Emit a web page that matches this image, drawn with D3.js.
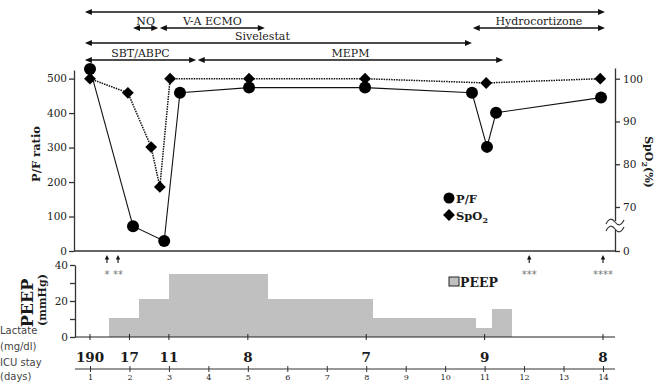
<!DOCTYPE html>
<html lang="en">
<head>
<meta charset="UTF-8">
<title>P/F ratio, SpO2 and PEEP</title>
<style>
  body, html { margin: 0; background: #fff; }
  svg text { font-family: "DejaVu Serif", serif; fill: #1a1a1a; }
  .tick text { fill: #222; }
  .side { font-family: "DejaVu Sans", sans-serif; fill: #444; font-size: 10px; }
</style>
<script src="https://d3js.org/d3.v7.min.js"></script>
</head>
<body>
<div id="chart"></div>
<script>
// treatments (double arrows above the plot)
const treatName  = ["", "NO", "V-A ECMO", "Hydrocortizone", "Sivelestat", "SBT/ABPC", "MEPM"];
const treatStart = [0.87, 2.09, 2.77, 10.70, 0.87, 0.87, 3.73];
const treatEnd   = [14.05, 2.73, 5.43, 14.05, 10.68, 3.69, 11.47];
const treatRow   = [0, 1, 1, 1, 2, 3, 3];

// P/F ratio (circles)
const pfDay   = [1, 2.09, 2.88, 3.28, 5.03, 7.97, 10.68, 11.06, 11.29, 13.95];
const pfValue = [528, 72, 29, 459, 474, 474, 459, 302, 401, 445];

// SpO2 (diamonds)
const spo2Day   = [1, 1.96, 2.55, 2.77, 3.03, 5.03, 7.97, 11.04, 13.93];
const spo2Value = [100, 96.7, 84, 74.7, 100, 100, 100, 99, 100];

// events under the axis
const eventDay  = [1.43, 1.71, 12.13, 14];
const eventMark = ["*", "**", "***", "****"];

// PEEP steps
const peepFrom  = [1.48, 2.24, 3.0, 5.49, 8.17, 10.76, 11.19];
const peepTo    = [2.24, 3.0, 5.49, 8.17, 10.76, 11.19, 11.69];
const peepValue = [10.5, 21, 35, 21, 10.5, 5, 15.5];

// lactate
const lactateDay   = [1, 2, 3, 5, 8, 11, 14];
const lactateValue = ["190", "17", "11", "8", "7", "9", "8"];

// ticks
const dayTicks  = [1, 2, 3, 4, 5, 6, 7, 8, 9, 10, 11, 12, 13, 14];
const pfTicks   = [0, 100, 200, 300, 400, 500];
const spo2Ticks = [0, 70, 80, 90, 100];
const peepTicks = [0, 10, 20, 30, 40];

const width = 664, height = 385;
const svg = d3.select("#chart").append("svg")
    .attr("width", width)
    .attr("height", height);

const x = d3.scaleLinear().domain([1, 14]).range([90, 603]);
const yPF = d3.scaleLinear().domain([0, 525]).range([251, 70]);
const ySp = d3.scaleLinear().domain([0, 70, 102.5]).range([251, 207, 68]);
const yPeep = d3.scaleLinear().domain([0, 40]).range([337, 265]);
const rowY = [12, 28, 43, 60];
const ink = "#111";

// ---- treatment arrows
const arrow = (g, x0, x1, y) => {
    g.append("line").attr("x1", x0 + 4).attr("x2", x1 - 4).attr("y1", y).attr("y2", y)
        .attr("stroke", ink).attr("stroke-width", 1.6);
    g.append("path").attr("d", `M${x0},${y}L${x0 + 7},${y - 3}L${x0 + 7},${y + 3}Z`).attr("fill", ink);
    g.append("path").attr("d", `M${x1},${y}L${x1 - 7},${y - 3}L${x1 - 7},${y + 3}Z`).attr("fill", ink);
};
const treat = svg.append("g");
treatName.forEach((name, i) => {
    const x0 = x(treatStart[i]), x1 = x(treatEnd[i]), y = rowY[treatRow[i]];
    arrow(treat, x0, x1, y);
    if (name) {
        treat.append("text")
            .attr("x", (x0 + x1) / 2 - (name === "Sivelestat" ? 16 : 0))
            .attr("y", y - 3)
            .attr("text-anchor", "middle")
            .style("font-size", "11px")
            .text(name);
    }
});

// ---- main axes
svg.append("line").attr("x1", 74).attr("x2", 615).attr("y1", 251).attr("y2", 251)
    .attr("stroke", "#333").attr("stroke-width", 1.3);

const leftAxis = svg.append("g").attr("transform", "translate(74,0)")
    .call(d3.axisLeft(yPF).tickValues(pfTicks).tickSize(5).tickSizeOuter(0).tickPadding(2));
const rightAxis = svg.append("g").attr("transform", "translate(615,0)")
    .call(d3.axisRight(ySp).tickValues(spo2Ticks).tickSize(5).tickSizeOuter(0).tickPadding(3));
[leftAxis, rightAxis].forEach(a => {
    a.selectAll("path, line").attr("stroke", "#333").attr("stroke-width", 1.3);
    a.selectAll("text").style("font-size", "10.5px").style("font-family", "DejaVu Serif");
});

// axis break on the SpO2 axis
svg.append("rect").attr("x", 612).attr("y", 221).attr("width", 6).attr("height", 9).attr("fill", "#fff");
[222, 229].forEach(y => {
    svg.append("path")
        .attr("d", `M606,${y + 2}C609,${y - 4} 612,${y - 4} 615,${y}S621,${y + 4} 624,${y - 2}`)
        .attr("fill", "none").attr("stroke", "#333").attr("stroke-width", 1.2);
});

// axis titles
svg.append("text").attr("transform", "translate(40,154) rotate(-90)")
    .attr("text-anchor", "middle").style("font-size", "11.5px").style("font-weight", "bold")
    .text("P/F ratio");
const spTitle = svg.append("text").attr("transform", "translate(645,162) rotate(90)")
    .attr("text-anchor", "middle").style("font-size", "11px").style("font-weight", "bold");
spTitle.append("tspan").text("SpO");
spTitle.append("tspan").attr("dy", 3).style("font-size", "8px").text("2");
spTitle.append("tspan").attr("dy", -3).text("(%)");

// ---- lines and markers
const lineSp = d3.line().x((d, i) => x(spo2Day[i])).y(d => ySp(d));
svg.append("path").datum(spo2Value).attr("d", lineSp)
    .attr("fill", "none").attr("stroke", ink).attr("stroke-width", 1.5).attr("stroke-dasharray", "1.5,1");

const linePF = d3.line().x((d, i) => x(pfDay[i])).y(d => yPF(d));
svg.append("path").datum(pfValue).attr("d", linePF)
    .attr("fill", "none").attr("stroke", ink).attr("stroke-width", 1.1);

const diamond = d3.symbol().type(d3.symbolSquare).size(70);
svg.append("g").selectAll("path")
    .data(spo2Value).enter().append("path")
    .attr("d", diamond)
    .attr("transform", (d, i) => `translate(${x(spo2Day[i])},${ySp(d)}) rotate(45)`)
    .attr("fill", "#000");

svg.append("g").selectAll("circle")
    .data(pfValue).enter().append("circle")
    .attr("cx", (d, i) => x(pfDay[i]))
    .attr("cy", d => yPF(d))
    .attr("r", 6)
    .attr("fill", "#000");

// legend
svg.append("circle").attr("cx", 449).attr("cy", 198).attr("r", 5.5).attr("fill", "#000");
svg.append("text").attr("x", 456).attr("y", 202.5).style("font-size", "11.5px").style("font-weight", "bold").text("P/F");
svg.append("path").attr("d", diamond).attr("transform", "translate(449,215) rotate(45)").attr("fill", "#000");
const legSp = svg.append("text").attr("x", 456).attr("y", 219.5).style("font-size", "11.5px").style("font-weight", "bold");
legSp.append("tspan").text("SpO");
legSp.append("tspan").attr("dy", 3).style("font-size", "8px").text("2");

// event arrows
eventDay.forEach((d, i) => {
    const ex = x(d);
    svg.append("line").attr("x1", ex).attr("x2", ex).attr("y1", 263).attr("y2", 258)
        .attr("stroke", ink).attr("stroke-width", 1.1);
    svg.append("path").attr("d", `M${ex},255L${ex - 2.2},259.5L${ex + 2.2},259.5Z`).attr("fill", ink);
    svg.append("text").attr("x", ex).attr("y", 278).attr("text-anchor", "middle")
        .style("font-family", "DejaVu Sans").style("font-size", "10px").style("fill", "#777")
        .text(eventMark[i]);
});

// ---- PEEP panel
svg.append("g").attr("shape-rendering", "crispEdges").selectAll("rect")
    .data(peepValue).enter().append("rect")
    .attr("x", (d, i) => x(peepFrom[i]))
    .attr("width", (d, i) => x(peepTo[i]) - x(peepFrom[i]) + 0.5)
    .attr("y", d => yPeep(d))
    .attr("height", d => yPeep(0) - yPeep(d))
    .attr("fill", "#c0c0c0");

const peepAxis = svg.append("g").attr("transform", "translate(75,0)")
    .call(d3.axisLeft(yPeep).tickValues(peepTicks).tickSize(5).tickSizeOuter(0).tickPadding(2)
        .tickFormat(d => d % 20 === 0 ? d : ""));
peepAxis.selectAll("path, line").attr("stroke", "#333").attr("stroke-width", 1.3);
peepAxis.selectAll("text").style("font-size", "10.5px").style("font-family", "DejaVu Serif");

svg.append("line").attr("x1", 75).attr("x2", 615).attr("y1", 337).attr("y2", 337)
    .attr("stroke", "#222").attr("stroke-width", 1.2);
svg.append("g").selectAll("line")
    .data(lactateDay).enter().append("line")
    .attr("x1", d => x(d)).attr("x2", d => x(d))
    .attr("y1", 334).attr("y2", 340)
    .attr("stroke", "#222");

svg.append("text").attr("transform", "translate(33,303) rotate(-90)")
    .attr("text-anchor", "middle").style("font-size", "16px").style("font-weight", "bold").text("PEEP");
svg.append("text").attr("transform", "translate(46,300) rotate(-90)")
    .attr("text-anchor", "middle").style("font-size", "11px").style("font-weight", "bold").text("(mmHg)");

svg.append("rect").attr("x", 449).attr("y", 277).attr("width", 10).attr("height", 9)
    .attr("fill", "#c0c0c0").attr("stroke", "#222").attr("stroke-width", 1);
svg.append("text").attr("x", 460).attr("y", 287).style("font-size", "12.5px").style("font-weight", "bold").text("PEEP");

// ---- lactate row
svg.append("g").selectAll("text")
    .data(lactateValue).enter().append("text")
    .attr("x", (d, i) => x(lactateDay[i]))
    .attr("y", 362)
    .attr("text-anchor", "middle")
    .style("font-size", "13.5px").style("font-weight", "bold")
    .text(d => d);

// side labels
[["Lactate", 334], ["(mg/dl)", 350], ["ICU stay", 366], ["(days)", 380]].forEach(([t, y]) => {
    svg.append("text").attr("class", "side").attr("x", 0).attr("y", y).text(t);
});

// ---- ICU day axis
svg.append("line").attr("x1", 75).attr("x2", 615).attr("y1", 369).attr("y2", 369)
    .attr("stroke", "#333").attr("stroke-width", 1.2);
const dayAxis = svg.append("g").attr("transform", "translate(0,369)")
    .call(d3.axisBottom(x).tickValues(dayTicks).tickSize(3).tickPadding(2));
dayAxis.select(".domain").remove();
dayAxis.selectAll("line").attr("y1", -3).attr("stroke", "#333");
dayAxis.selectAll("text").style("font-size", "8px").style("font-family", "DejaVu Serif");
</script>
</body>
</html>
